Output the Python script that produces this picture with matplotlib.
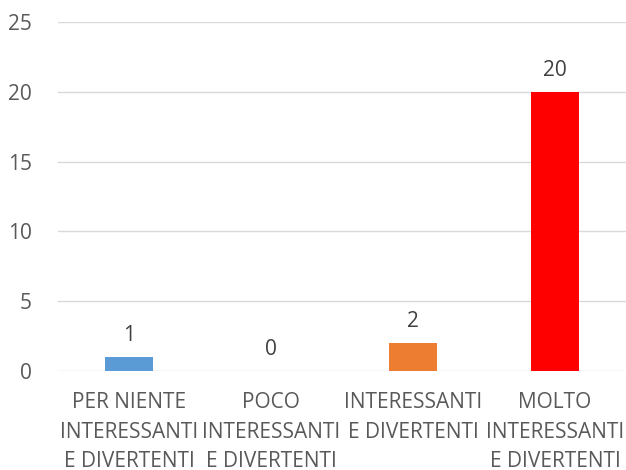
import matplotlib
matplotlib.use("Agg")
import matplotlib.pyplot as plt

categories = ["PER NIENTE\nINTERESSANTI\nE DIVERTENTI",
              "POCO\nINTERESSANTI\nE DIVERTENTI",
              "INTERESSANTI\nE DIVERTENTI",
              "MOLTO\nINTERESSANTI\nE DIVERTENTI"]
values = [1, 0, 2, 20]
colors = ["#5B9BD5", "#A5A5A5", "#ED7D31", "#FF0000"]
yticks = [0, 5, 10, 15, 20, 25]

plt.rcParams['font.family'] = ['Open Sans', 'DejaVu Sans']
FS = 15

fig = plt.figure(figsize=(6.26, 4.70), dpi=100)
ax = fig.add_axes([58/626, 1-371/470, 1-58/626, (371-22)/470])

x = list(range(len(categories)))
bars = ax.bar(x, values, width=0.34, color=colors, zorder=3)
for xi, v in zip(x, values):
    ax.text(xi, v + 0.8, str(v), ha='center', va='bottom', fontsize=FS, color='#404040')

ax.set_ylim(0, 25)
ax.set_xlim(-0.5, 3.5)
ax.set_yticks(yticks)
ax.set_xticks(x)
ax.set_xticklabels(categories, fontsize=FS, color='#595959', linespacing=1.55)
ax.tick_params(axis='y', labelsize=FS, labelcolor='#595959', length=0, pad=19)
ax.tick_params(axis='x', length=0, pad=15)
for s in ax.spines.values():
    s.set_visible(False)
ax.grid(axis='y', color='#D9D9D9', linewidth=1, zorder=0)

fig.savefig("out.png", dpi=100)
